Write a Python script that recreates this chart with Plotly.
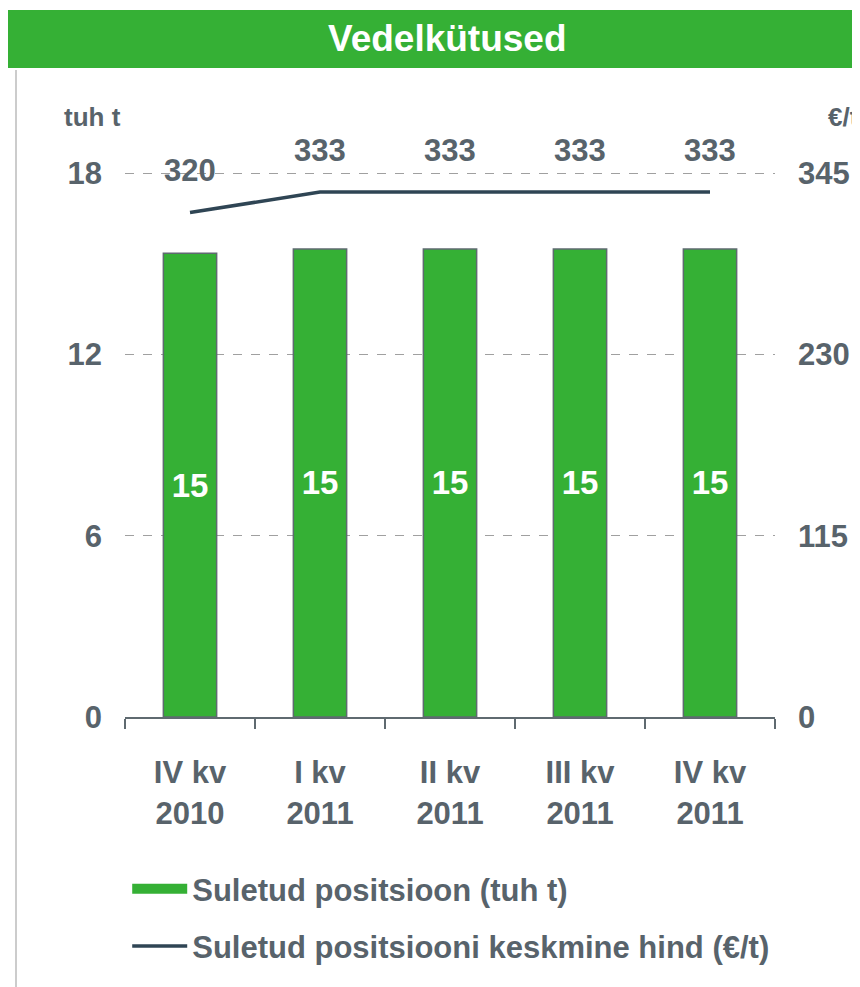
import plotly.graph_objects as go

categories = ["IV kv<br>2010", "I kv<br>2011", "II kv<br>2011", "III kv<br>2011", "IV kv<br>2011"]
volumes = [15.35, 15.49, 15.49, 15.49, 15.49]      # Suletud positsioon (tuh t)
prices = [320, 333, 333, 333, 333]                  # keskmine hind (€/t)
left_ticks = [0, 6, 12, 18]
right_ticks = [0, 115, 230, 345]
bar_name = "Suletud positsioon (tuh t)"
line_name = "Suletud positsiooni keskmine hind (€/t)"

GREEN = "#35b035"
GRAY = "#58636b"
DARK = "#2f4554"
FONT = "Liberation Sans, Arial, sans-serif"

fig = go.Figure()
fig.add_trace(go.Bar(
    x=categories, y=volumes, name=bar_name,
    marker=dict(color=GREEN, line=dict(color="#5f6a70", width=1.5)),
    width=0.41,
    texttemplate="%{y:.0f}", textposition="inside", insidetextanchor="middle",
    textangle=0,
    textfont=dict(color="white", size=33, family=FONT, weight="bold"),
    showlegend=False, hoverinfo="skip",
))
# legend entry for the bars (wide rectangular swatch as in the original)
fig.add_trace(go.Scatter(
    x=[None], y=[None], name=bar_name, mode="lines",
    line=dict(color=GREEN, width=15), legendgroup="a", hoverinfo="skip",
))
fig.add_trace(go.Scatter(
    x=categories, y=prices, name=line_name,
    mode="lines", line=dict(color=DARK, width=3.5), yaxis="y2",
    legendgroup="b", hoverinfo="skip",
))

for c, p in zip(categories, prices):
    fig.add_annotation(x=c, y=p, yref="y2", text=str(p), showarrow=False,
                       yshift=42, font=dict(size=31, color=GRAY, family=FONT, weight="bold"))

# Banner title
fig.add_shape(type="rect", xref="paper", yref="paper", x0=-0.18, x1=1.14, y0=1.161, y1=1.2648,
              fillcolor=GREEN, line=dict(width=0), layer="below")
fig.add_annotation(xref="paper", yref="paper", x=0.4954, y=1.2129, text="Vedelkütused",
                   xanchor="center", yanchor="middle",
                   showarrow=False, font=dict(size=37, color="white", family=FONT, weight="bold"))
# left gray frame line
fig.add_shape(type="line", xref="paper", yref="paper", x0=-0.1677, x1=-0.1677, y0=1.1574, y1=-0.5,
              line=dict(color="#cccccc", width=2))
# axis titles
fig.add_annotation(xref="paper", yref="paper", x=-0.097, y=1.0733, xanchor="left", yanchor="middle",
                   text="tuh t", showarrow=False,
                   font=dict(size=26, color=GRAY, family=FONT, weight="bold"))
fig.add_annotation(xref="paper", yref="paper", x=1.0785, y=1.0733, xanchor="left", yanchor="middle",
                   text="€/t", showarrow=False,
                   font=dict(size=26, color=GRAY, family=FONT, weight="bold"))

tickfont = dict(size=31, color=GRAY, family=FONT, weight="bold")
fig.update_layout(
    width=852, height=979,
    margin=dict(l=117, r=85, t=150, b=270, autoexpand=False),
    paper_bgcolor="white", plot_bgcolor="white",
    showlegend=True,
    legend=dict(x=0.0034, y=-0.2594, xanchor="left", yanchor="top", orientation="v",
                font=dict(size=31, color=GRAY, family=FONT, weight="bold"),
                tracegroupgap=14, itemwidth=55, bgcolor="rgba(0,0,0,0)"),
    xaxis=dict(showline=True, linecolor="#5f6a70", linewidth=2, ticks="outside",
               tickson="boundaries", ticklen=10, tickcolor="#5f6a70", tickwidth=2,
               tickfont=tickfont, ticklabelstandoff=27, showgrid=False),
    yaxis=dict(range=[0, 18.5], tickvals=left_ticks, showgrid=True, gridcolor="#a0a0a0",
               griddash="dash", gridwidth=1, zeroline=False, showline=False,
               tickfont=tickfont, ticklabelstandoff=22),
    yaxis2=dict(range=[0, 345 * 18.5 / 18], tickvals=right_ticks, overlaying="y", side="right",
                showgrid=False, zeroline=False, showline=False,
                tickfont=tickfont, ticklabelstandoff=22),
    bargap=0.59,
)

fig.write_html("out.html")
